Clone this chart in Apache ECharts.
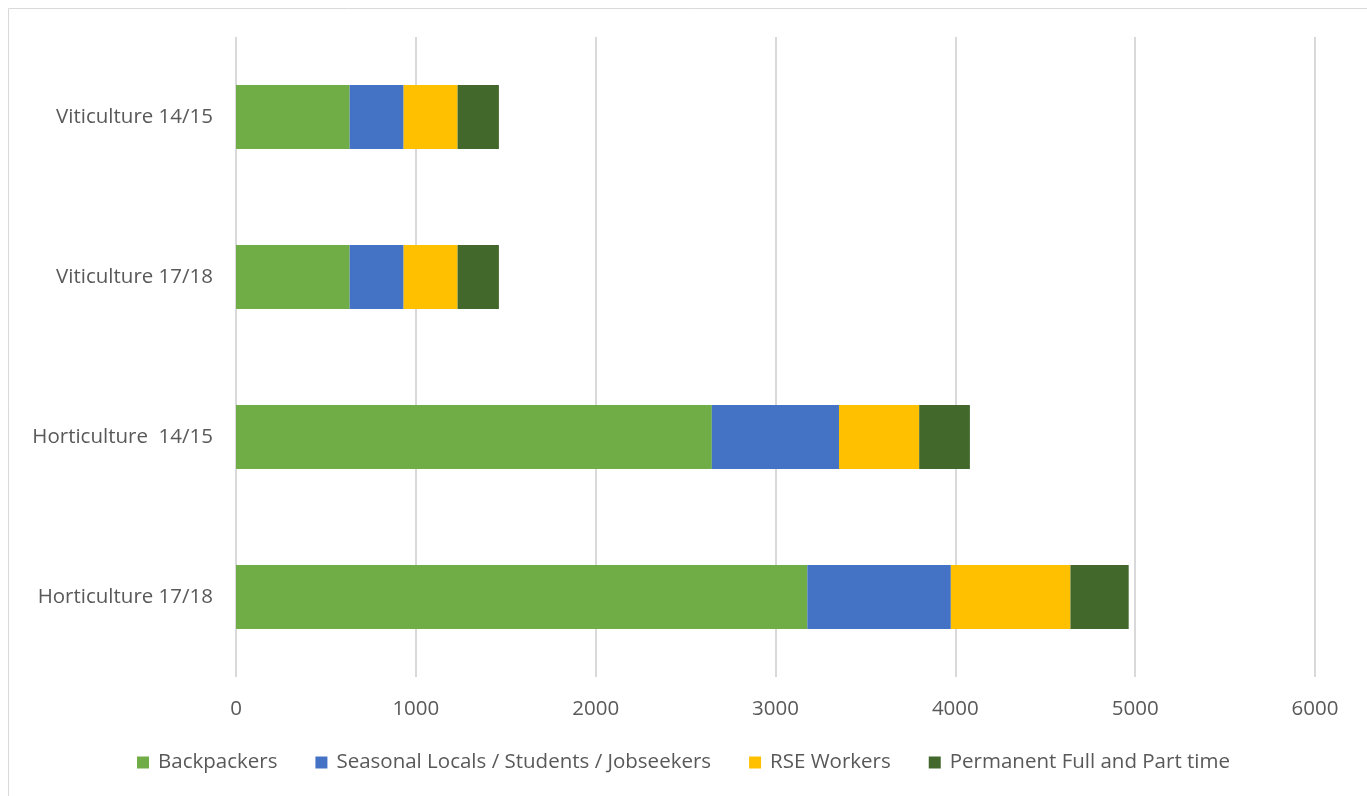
<!DOCTYPE html>
<html>
<head>
<meta charset="utf-8">
<script src="https://cdn.jsdelivr.net/npm/echarts@6/dist/echarts.min.js"></script>
<style>
  html, body { margin: 0; padding: 0; background: #fff; }
  #chart { width: 1367px; height: 796px; }
</style>
</head>
<body>
<div id="chart"></div>
<script>
// categories, top to bottom
const categories = ['Viticulture 14/15', 'Viticulture 17/18', 'Horticulture  14/15', 'Horticulture 17/18']

const backpackers = [632, 632, 2646, 3177]
const seasonalLocals = [300, 300, 707, 798]
const rseWorkers = [300, 300, 446, 665]
const permanent = [230, 230, 282, 324]

const seriesNames = ['Backpackers', 'Seasonal Locals / Students / Jobseekers', 'RSE Workers', 'Permanent Full and Part time']
const seriesColors = ['#70ad47', '#4472c4', '#ffc000', '#43682b']

const chart = echarts.init(document.getElementById('chart'))

const fontFamily = '"Open Sans", "Liberation Sans", sans-serif'

const option = {
  animation: false,
  textStyle: { fontFamily: fontFamily },
  graphic: [
    {
      type: 'rect',
      shape: { x: 8.5, y: 8.5, width: 1400, height: 900 },
      style: { fill: 'none', stroke: '#d9d9d9', lineWidth: 1 },
      silent: true
    }
  ],
  grid: {
    left: 236,
    right: 52,
    top: 37,
    bottom: 119,
    containLabel: false
  },
  legend: {
    bottom: 18,
    left: 'center',
    itemWidth: 12,
    itemHeight: 12,
    itemGap: 38,
    icon: 'rect',
    textStyle: { color: '#595959', fontSize: 20.5, fontFamily: fontFamily, padding: [0, 0, 0, 4] },
    data: seriesNames
  },
  xAxis: {
    type: 'value',
    min: 0,
    max: 6000,
    interval: 1000,
    axisLine: { show: false },
    axisTick: { show: false },
    axisLabel: { color: '#595959', fontSize: 20.5, margin: 22, formatter: (v) => String(v) },
    splitLine: { lineStyle: { color: '#d9d9d9', width: 2 } }
  },
  yAxis: {
    type: 'category',
    inverse: true,
    data: categories,
    axisLine: { show: false },
    axisTick: { show: false },
    axisLabel: { color: '#595959', fontSize: 20.5, margin: 23 }
  },
  series: [backpackers, seasonalLocals, rseWorkers, permanent].map((data, i) => ({
    name: seriesNames[i],
    type: 'bar',
    stack: 'total',
    barWidth: 64,
    data: data,
    itemStyle: { color: seriesColors[i] }
  }))
}

chart.setOption(option)
</script>
</body>
</html>
